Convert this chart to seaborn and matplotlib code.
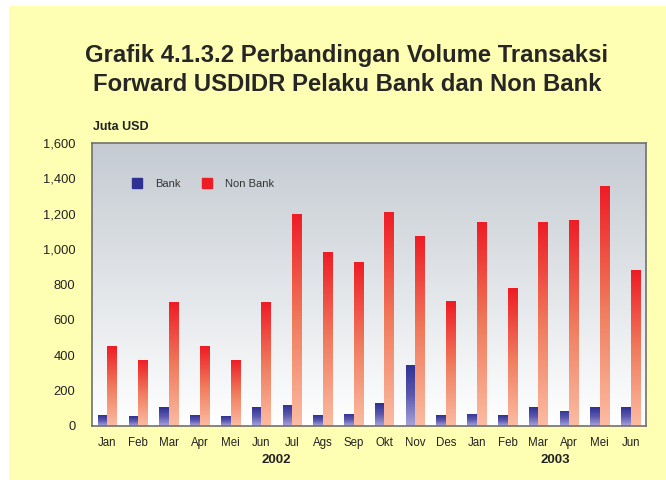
import numpy as np
import pandas as pd
import matplotlib
matplotlib.use("Agg")
import matplotlib.pyplot as plt
from matplotlib.colors import LinearSegmentedColormap
from matplotlib.patches import Rectangle
import seaborn as sns

months = ["Jan", "Feb", "Mar", "Apr", "Mei", "Jun", "Jul", "Ags", "Sep",
          "Okt", "Nov", "Des", "Jan", "Feb", "Mar", "Apr", "Mei", "Jun"]
bank = [60, 55, 105, 60, 55, 105, 120, 60, 70,
        130, 345, 60, 70, 60, 105, 85, 105, 105]
non_bank = [450, 375, 700, 450, 375, 700, 1200, 985, 930,
            1210, 1075, 705, 1155, 780, 1155, 1165, 1355, 880]
years = ["2002", "2003"]

slot = [f"{i:02d}" for i in range(len(months))]
df = pd.DataFrame({
    "slot": slot * 2,
    "value": bank + non_bank,
    "Pelaku": ["Bank"] * len(bank) + ["Non Bank"] * len(non_bank),
})

sns.set_style("white")
plt.rcParams["font.family"] = ["Liberation Sans", "DejaVu Sans"]

fig = plt.figure(figsize=(6.66, 4.8), dpi=100)
fig.patch.set_facecolor("white")
fig.patches.append(Rectangle((9 / 666, 0), 1, 1 - 6 / 480, transform=fig.transFigure,
                             facecolor="#FFFFB3", edgecolor="none", zorder=-10))

ax = fig.add_axes([92 / 666, 1 - 426 / 480, (646 - 92) / 666, (426 - 143) / 480])

pal = {"Bank": "#2E3192", "Non Bank": "#EE1C25"}
sns.barplot(data=df, x="slot", y="value", hue="Pelaku", palette=pal,
            width=0.62, gap=0, saturation=1, ax=ax, legend=False)

ax.set_xlim(-0.5, len(months) - 0.5)
ax.set_ylim(0, 1600)

# background gradient
bg = LinearSegmentedColormap.from_list("bg", ["#FFFFFF", "#C4CBD2"])
ax.imshow(np.linspace(0, 1, 256).reshape(-1, 1), cmap=bg, aspect="auto",
          extent=[-0.5, len(months) - 0.5, 0, 1600], origin="lower", zorder=0)

cm_red = LinearSegmentedColormap.from_list("r", ["#FBBCA2", "#F07A5C", "#EE1C25"])
cm_blue = LinearSegmentedColormap.from_list("b", ["#A8A3DA", "#5B58AE", "#2E3192"])
for i, p in enumerate(ax.patches):
    x0, y0 = p.get_x(), p.get_y()
    w, h = p.get_width(), p.get_height()
    cmap = cm_blue if i < len(bank) else cm_red
    p.set_facecolor("none")
    p.set_edgecolor("none")
    im = ax.imshow(np.linspace(0, 1, 128).reshape(-1, 1), cmap=cmap, aspect="auto",
                   extent=[x0, x0 + w, y0, y0 + h], origin="lower", zorder=2)
    im.set_clip_path(p)
ax.set_xlim(-0.5, len(months) - 0.5)
ax.set_ylim(0, 1600)

# axes styling
for s in ax.spines.values():
    s.set_color("#707070")
    s.set_linewidth(1.2)
ax.set_yticks(np.arange(0, 1601, 200))
ax.set_yticklabels([f"{v:,}" for v in range(0, 1601, 200)], fontsize=9.3, color="#222222")
ax.tick_params(axis="y", which="major", direction="out", length=4, color="#505050", pad=8)
ax.set_xticks(range(len(months)))
ax.set_xticklabels(months, fontsize=8.3, color="#222222")
ax.tick_params(axis="x", which="major", length=0, pad=8)
ax.set_xticks(np.arange(-0.5, len(months), 1), minor=True)
ax.tick_params(axis="x", which="minor", direction="out", length=4, color="#303030")
ax.set_xlabel("")
ax.set_ylabel("")

# year labels
ax.text(5.5, -0.12, years[0], transform=ax.get_xaxis_transform(), ha="center",
        va="center", fontsize=9.5, fontweight="bold", color="#222222")
ax.text(14.55, -0.12, years[1], transform=ax.get_xaxis_transform(), ha="center",
        va="center", fontsize=9.5, fontweight="bold", color="#222222")

# legend
handles = [Rectangle((0, 0), 1, 1, color=pal["Bank"]),
           Rectangle((0, 0), 1, 1, color=pal["Non Bank"])]
leg = ax.legend(handles, ["Bank", "Non Bank"], ncol=2, frameon=False, fontsize=8,
                loc="upper left", bbox_to_anchor=(0.055, 0.91), handlelength=0.9,
                handleheight=0.9, handletextpad=1.1, columnspacing=2.0)
for t in leg.get_texts():
    t.set_color("#333333")

fig.text(93 / 666, 1 - 127 / 480, "Juta USD", fontsize=9, fontweight="bold",
         ha="left", va="center", color="#222222")
fig.text(347 / 666, 1 - 70 / 480,
         "Grafik 4.1.3.2 Perbandingan Volume Transaksi\nForward USDIDR Pelaku Bank dan Non Bank",
         fontsize=17.2, fontweight="bold", ha="center", va="center", linespacing=1.38)

fig.savefig("out.png", dpi=100, facecolor=fig.get_facecolor())
